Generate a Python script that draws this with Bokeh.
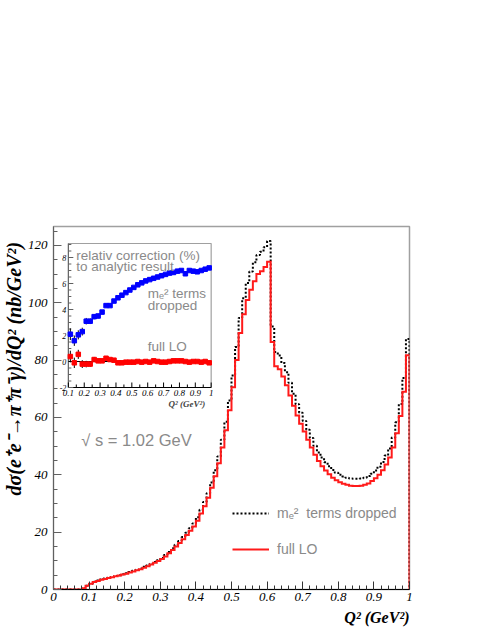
import numpy as np
from bokeh.plotting import figure
from bokeh.models import Range1d, Label, Legend, LegendItem, FixedTicker, Title
from bokeh.embed import file_html
from bokeh.resources import INLINE
from bokeh.core.properties import value

# ---------------- data ----------------
# main histograms: dsigma/dQ^2 in bins of Q^2 (GeV^2), width 0.01 from 0 to 1
bin_start = 0.0
bin_width = 0.01
full_lo = [
    0, 0, 0, 0, 0, 0, 0, 0, 0.4, 1.3,
    2.0, 2.6, 3.0, 3.4, 3.7, 4.0, 4.3, 4.6, 4.9, 5.2,
    5.5, 5.9, 6.3, 6.7, 7.1, 7.6, 8.1, 8.7, 9.3, 9.9,
    10.6, 11.5, 12.6, 13.8, 15.0, 16.2, 17.5, 19.0, 20.5, 22.0,
    24.0, 26.5, 29.0, 32.0, 35.5, 39.5, 44.0, 49.5, 55.5, 62.5,
    70.5, 80.0, 89.5, 96.0, 101.0, 104.5, 107.5, 110.0, 111.0, 112.5,
    114.3, 86.3, 77.9, 76.8, 74.3, 71.2, 67.7, 64.1, 60.7, 57.8,
    55.1, 52.2, 49.5, 47.0, 44.8, 43.0, 41.5, 40.2, 39.0, 38.1,
    37.4, 36.9, 36.5, 36.2, 36.1, 36.1, 36.2, 36.5, 37.0, 37.8,
    38.8, 40.0, 41.6, 43.6, 46.0, 49.5, 54.5, 60.5, 69.0, 81.7]
me2_dropped = [
    0, 0, 0, 0, 0, 0, 0, 0, 0.4, 1.3,
    2.0, 2.7, 3.1, 3.5, 3.8, 4.1, 4.4, 4.7, 5.0, 5.3,
    5.7, 6.1, 6.5, 6.9, 7.3, 7.9, 8.4, 9.0, 9.6, 10.2,
    11.0, 12.0, 13.1, 14.4, 15.6, 16.9, 18.3, 19.8, 21.4, 23.0,
    25.2, 27.8, 30.5, 33.6, 37.3, 41.6, 46.4, 52.2, 58.5, 65.9,
    74.6, 84.6, 94.7, 101.6, 106.9, 110.9, 114.1, 116.7, 117.8, 119.4,
    121.5, 91.7, 82.8, 81.6, 79.0, 75.8, 72.1, 68.3, 64.6, 61.6,
    58.8, 55.7, 52.8, 50.1, 47.8, 46.0, 44.4, 43.0, 41.7, 40.7,
    40.0, 39.4, 39.0, 38.7, 38.6, 38.6, 38.7, 39.0, 39.6, 40.4,
    41.5, 42.8, 44.5, 46.7, 49.2, 53.0, 58.3, 64.7, 73.8, 87.4]

# inset: relative correction (%) in bins of width 0.025 from 0.1 to 1
inset_bin_start = 0.1
inset_bin_width = 0.025
inset_me2_dropped = [2.1, 1.6, 2.05, 2.3, 3.1, 3.1, 3.45, 3.5, 3.8, 4.3, 4.3, 4.65,
                     4.9, 5.1, 5.3, 5.5, 5.7, 5.9, 6.05, 6.2, 6.3, 6.4, 6.5, 6.6,
                     6.7, 6.8, 6.85, 6.95, 7.0, 6.75, 7.0, 6.95, 6.9, 7.0, 7.1, 7.2]
inset_full_lo = [0.38, -0.1, 0.55, -0.2, -0.2, -0.2, 0.15, 0.05, 0.05, 0.25, 0.15, 0.1,
                 -0.1, -0.1, -0.05, -0.05, -0.05, 0.0, -0.05, 0.0, -0.05, 0.05, 0.0, -0.05,
                 -0.05, 0.0, 0.05, 0.05, 0.05, 0.0, -0.05, 0.0, 0.0, -0.05, 0.0, -0.1]
inset_err = [0.45, 0.4, 0.35, 0.3, 0.25, 0.22, 0.2, 0.18, 0.16, 0.15, 0.12, 0.12,
             0.1, 0.1, 0.1, 0.1, 0.1, 0.1, 0.1, 0.1, 0.1, 0.1, 0.1, 0.1,
             0.1, 0.1, 0.1, 0.1, 0.1, 0.1, 0.1, 0.1, 0.1, 0.1, 0.1, 0.1]

x_ticks = [0, 0.1, 0.2, 0.3, 0.4, 0.5, 0.6, 0.7, 0.8, 0.9, 1]
x_tick_labels = ["0", "0.1", "0.2", "0.3", "0.4", "0.5", "0.6", "0.7", "0.8", "0.9", "1"]
y_ticks = [0, 20, 40, 60, 80, 100, 120]
y_tick_labels = ["0", "20", "40", "60", "80", "100", "120"]
inset_x_ticks = [0.1, 0.2, 0.3, 0.4, 0.5, 0.6, 0.7, 0.8, 0.9, 1.0]
inset_x_tick_labels = ["0.1", "0.2", "0.3", "0.4", "0.5", "0.6", "0.7", "0.8", "0.9", "1"]
inset_y_ticks = [-2, 0, 2, 4, 6, 8]
inset_y_tick_labels = ["-2", "0", "2", "4", "6", "8"]

# ---------------- layout ----------------
W, H = 491, 635
B_LEFT, B_RIGHT, B_TOP, B_BOTTOM = 50, 82, 226, 46
FRAME_W = W - B_LEFT - B_RIGHT
FRAME_H = H - B_TOP - B_BOTTOM
Y_MAX = 126.6
GRAY_TEXT = "#8a8a8a"
SERIF = "Liberation Serif"
SANS = "Liberation Sans"

p = figure(width=W, height=H, x_range=Range1d(0, 1), y_range=Range1d(0, Y_MAX),
           output_backend="svg", toolbar_location=None,
           min_border_left=B_LEFT, min_border_right=B_RIGHT,
           min_border_top=B_TOP, min_border_bottom=B_BOTTOM,
           background_fill_color="white", border_fill_color="white")
p.grid.visible = False
p.outline_line_color = "#a0a0a0"
p.outline_line_width = 1.5

# axes
p.xaxis.ticker = FixedTicker(ticks=x_ticks, minor_ticks=list(np.round(np.arange(0, 1.0001, 0.02), 2)))
p.xaxis.major_label_overrides = dict(zip(x_ticks, x_tick_labels))
p.yaxis.ticker = FixedTicker(ticks=y_ticks, minor_ticks=list(range(0, 126, 5)))
p.yaxis.major_label_overrides = dict(zip(y_ticks, y_tick_labels))
for ax in (p.xaxis, p.yaxis):
    ax.major_tick_in = 8
    ax.major_tick_out = 0
    ax.minor_tick_in = 4
    ax.minor_tick_out = 0
    ax.major_label_text_font = SERIF
    ax.major_label_text_font_style = "italic"
    ax.major_label_text_font_size = "13px"
    ax.major_label_text_color = "black"
p.xaxis.axis_line_color = "black"
p.xaxis.major_tick_line_color = "#333333"
p.xaxis.minor_tick_line_color = "#333333"
p.xaxis.major_label_standoff = 3
p.yaxis.axis_line_color = "#606060"
p.yaxis.major_tick_line_color = "#606060"
p.yaxis.minor_tick_line_color = "#606060"
p.yaxis.major_label_standoff = 6

# axis titles as side titles
p.add_layout(Title(text="dσ(e⁺e⁻→π⁺π⁻γ)/dQ² (nb/GeV²)", align="left", offset=94,
                   standoff=0, text_font=SERIF, text_font_style="bold italic",
                   text_font_size="20px", text_color="black"), "left")
p.add_layout(Title(text="Q² (GeV²)", align="right", offset=0, standoff=6,
                   text_font=SERIF, text_font_style="bold italic",
                   text_font_size="16px", text_color="black"), "below")


def step_xy(vals):
    edges = bin_start + bin_width * np.arange(len(vals) + 1)
    xs = np.repeat(edges, 2)
    ys = np.concatenate([[0.0], np.repeat(np.asarray(vals, dtype=float), 2), [0.0]])
    return xs, ys


bx, by = step_xy(me2_dropped)
r_black = p.line(bx, by, line_color="black", line_width=2, line_dash="2 2")
rx, ry = step_xy(full_lo)
r_red = p.line(rx, ry, line_color="#ff1a1a", line_width=2, line_join="miter")

legend = Legend(items=[LegendItem(label="mₑ²  terms dropped", renderers=[r_black]),
                       LegendItem(label="full LO", renderers=[r_red])],
                location=(179, 30), orientation="vertical",
                glyph_width=37, glyph_height=20, label_standoff=8, spacing=16,
                padding=0, margin=0, border_line_alpha=0, background_fill_alpha=0,
                label_text_font=SANS, label_text_font_size="14px",
                label_text_color=GRAY_TEXT, label_height=20)
p.add_layout(legend)

p.add_layout(Label(x=0.078, y=52.0, text="√ s = 1.02 GeV", text_font=SANS,
                   text_font_size="16.5px", text_color=GRAY_TEXT, text_baseline="middle"))

# ---------------- inset (drawn in the frame through extra ranges) ----------------
UX = 0.9 / 144.0     # inset x units per pixel
UY = 1.0 / 13.0      # inset y units per pixel
ix0 = inset_x_ticks[0] - 15 * UX
iy0 = inset_y_ticks[0] - 202 * UY
p.extra_x_ranges = {"ix": Range1d(ix0, ix0 + FRAME_W * UX)}
p.extra_y_ranges = {"iy": Range1d(iy0, iy0 + FRAME_H * UY)}
IN = dict(x_range_name="ix", y_range_name="iy")
in_left, in_right = inset_x_ticks[0], inset_x_ticks[-1]
in_bottom = inset_y_ticks[0]
in_top = in_bottom + 144 * UY

p.quad(left=[in_left], right=[in_right], bottom=[in_bottom], top=[in_top],
       fill_color="white", line_color="#a0a0a0", line_width=1.2, **IN)
p.segment(x0=[in_left], y0=[in_bottom], x1=[in_right], y1=[in_bottom],
          line_color="black", line_width=1, **IN)
p.segment(x0=[in_left], y0=[in_bottom], x1=[in_left], y1=[in_top],
          line_color="#606060", line_width=1, **IN)

# inset ticks
ixt = np.array(inset_x_ticks)
ixm = np.round(np.arange(in_left + 0.05, in_right, 0.1), 3)
p.segment(x0=ixt, y0=np.full(len(ixt), in_bottom), x1=ixt, y1=np.full(len(ixt), in_bottom + 5 * UY),
          line_color="black", line_width=1, **IN)
p.segment(x0=ixm, y0=np.full(len(ixm), in_bottom), x1=ixm, y1=np.full(len(ixm), in_bottom + 3 * UY),
          line_color="black", line_width=1, **IN)
iyt = np.array(inset_y_ticks, dtype=float)
iym = np.arange(in_bottom, in_top, 0.5)
p.segment(x0=np.full(len(iyt), in_left), y0=iyt, x1=np.full(len(iyt), in_left + 5 * UX), y1=iyt,
          line_color="#606060", line_width=1, **IN)
p.segment(x0=np.full(len(iym), in_left), y0=iym, x1=np.full(len(iym), in_left + 3 * UX), y1=iym,
          line_color="#606060", line_width=1, **IN)

p.text(x=ixt, y=np.full(len(ixt), in_bottom), text=inset_x_tick_labels, text_align="center",
       text_baseline="top", y_offset=2, text_font=value(SERIF), text_font_style="italic",
       text_font_size="9px", text_color="black", **IN)
p.text(x=np.full(len(iyt), in_left), y=iyt, text=inset_y_tick_labels, text_align="right",
       text_baseline="middle", x_offset=-2, text_font=value(SERIF), text_font_style="italic",
       text_font_size="8px", text_color="black", **IN)
p.add_layout(Label(x=0.9625, y=-3.25, text="Q² (GeV²)", text_align="right", text_baseline="middle",
                   text_font=SERIF, text_font_style="bold italic", text_font_size="9px", **IN))

# zero line
p.segment(x0=[in_left], y0=[0], x1=[in_right], y1=[0], line_color="black", line_width=1.2, **IN)

iq = inset_bin_start + inset_bin_width * (np.arange(len(inset_me2_dropped)) + 0.5)
err = np.array(inset_err)
for vals, col in ((inset_me2_dropped, "#0000ff"), (inset_full_lo, "#ff0000")):
    v = np.array(vals)
    p.segment(x0=iq, y0=v - err, x1=iq, y1=v + err, line_color="black", line_width=1, **IN)
    p.scatter(iq, v, marker="square", size=4.5, fill_color=col, line_color=col, **IN)

for txt, xx, yy in (("relativ correction (%)", 0.15, 8.15), ("to analytic result", 0.15, 7.3),
                    ("mₑ²  terms", 0.6, 5.23), ("dropped", 0.6, 4.31), ("full LO", 0.6, 1.15)):
    p.add_layout(Label(x=xx, y=yy, text=txt, text_baseline="middle", text_font=SANS,
                       text_font_size="13.5px", text_color=GRAY_TEXT, **IN))

open("out.html", "w").write(file_html(p, INLINE))
